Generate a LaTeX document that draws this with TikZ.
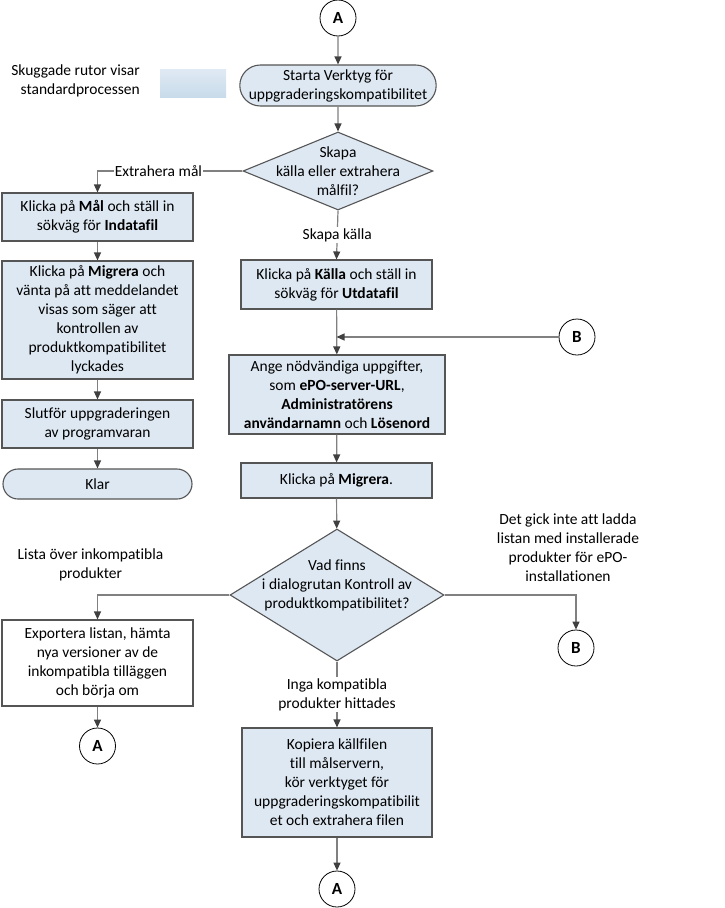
\documentclass[tikz,border=0pt]{standalone}
\usepackage{fontspec}
\setmainfont{Carlito}[Ligatures=NoCommon]
\usetikzlibrary{shapes.geometric, shapes.misc, arrows.meta, positioning}
\definecolor{boxfill}{RGB}{222,232,242}
\definecolor{boxline}{RGB}{85,85,85}
\definecolor{lineclr}{RGB}{128,128,128}
\definecolor{tipclr}{RGB}{64,64,64}
\definecolor{legtop}{RGB}{224,234,244}
\definecolor{legbot}{RGB}{200,219,234}
\tikzset{
  block/.style={
    rectangle, draw=boxline, line width=1.1pt, align=center,
    minimum width=191pt, inner sep=1pt,
    font=\fontsize{15.5}{19}\selectfont
  },
  proc/.style={block, fill=boxfill},
  plain/.style={block, fill=white},
  term/.style={block, rounded rectangle, fill=boxfill},
  dec/.style={diamond, draw=boxline, line width=1.1pt, fill=boxfill, inner sep=0pt},
  conn/.style={circle, draw=black, line width=0.8pt, fill=white,
    minimum size=36pt, inner sep=0pt, font=\fontsize{17}{18}\selectfont\bfseries},
  txt/.style={font=\fontsize{15.5}{19}\selectfont, align=center, inner sep=1pt},
  arr/.style={draw=lineclr, line width=1.2pt,
    -{Triangle[length=8pt, width=7pt, color=tipclr]}},
  legbox/.style={rectangle, minimum width=66pt, minimum height=28pt,
    top color=legtop, bottom color=legbot}
}
\begin{document}
\begin{tikzpicture}[x=1pt, y=-1pt]
  \useasboundingbox (0,0) rectangle (724,908);

  % legend
  \node[txt, align=right, anchor=east] (legtxt) at (141,81)
        {Skuggade rutor visar\\standardprocessen};
  \node[legbox] (leg) at (193,83) {};

  % main column
  \node[conn] (a1) at (338,18) {A};
  \node[term, minimum width=190pt, minimum height=41pt] (start) at (338,85.5)
        {Starta Verktyg för\\uppgraderingskompatibilitet};
  \node[dec, minimum width=190pt, minimum height=78pt,
        label={[txt]center:{Skapa\\källa eller extrahera\\målfil?}}] (ask) at (338,171) {};
  \node[proc, minimum height=49pt] (src) at (336.5,284.5)
        {Klicka på \textbf{Källa} och ställ in\\sökväg för \textbf{Utdatafil}};
  \node[proc, minimum width=216pt, minimum height=79pt] (info) at (337,394.5)
        {Ange nödvändiga uppgifter,\\som \textbf{ePO-server-URL},\\
         \textbf{Administratörens}\\\textbf{användarnamn} och \textbf{Lösenord}};
  \node[proc, minimum height=35pt] (migr) at (336.5,480.5)
        {Klicka på \textbf{Migrera}.};
  \node[dec, minimum width=214pt, minimum height=132pt,
        label={[txt, yshift=10pt]center:{Vad finns\\i dialogrutan Kontroll av\\produktkompatibilitet?}}] (check) at (337,595) {};
  \node[proc, minimum width=190pt, minimum height=109pt] (copy) at (337,782.5)
        {Kopiera källfilen\\till målservern,\\kör verktyget för\\uppgraderingskompatibilit\\et och extrahera filen};
  \node[conn] (a3) at (337,889) {A};

  % left column
  \node[proc, minimum height=48pt] (tgt) at (97.5,217)
        {Klicka på \textbf{Mål} och ställ in\\sökväg för \textbf{Indatafil}};
  \node[proc, minimum height=118pt] (wait) at (97.5,320)
        {Klicka på \textbf{Migrera} och\\vänta på att meddelandet\\visas som säger att\\kontrollen av\\produktkompatibilitet\\lyckades};
  \node[proc, minimum height=48pt] (fin) at (97.5,424)
        {Slutför uppgraderingen\\av programvaran};
  \node[term, minimum height=30pt] (done) at (97.5,484) {Klar};
  \node[plain, minimum height=86pt] (exp) at (97.5,663)
        {Exportera listan, hämta\\nya versioner av de\\inkompatibla tilläggen\\och börja om};
  \node[conn] (a2) at (97.5,746) {A};

  % off-page connectors
  \node[conn] (b1) at (577,337) {B};
  \node[conn] (b2) at (576,648) {B};
  \coordinate (jn) at (b1 -| src);

  \draw[arr] (a1) -- (start);
  \draw[arr] (start) -- (ask);
  \draw[arr] (ask.west) -| node[txt, fill=white, pos=0.29] {Extrahera mål} (tgt.north);
  \draw[arr] (ask.south) -- node[txt, fill=white] {Skapa källa} (src.north);
  \draw[arr] (src) -- (info);
  \draw[arr] (b1) -- (jn);
  \draw[arr] (info) -- (migr);
  \draw[arr] (migr) -- (check);
  \draw[arr] (check.west) -| node[txt, above=12pt, xshift=-7pt, pos=0.5]
        {Lista över inkompatibla\\produkter} (exp.north);
  \draw[arr] (check.east) -| node[txt, above=12pt, xshift=-8pt, pos=0.5]
        {Det gick inte att ladda\\listan med installerade\\produkter för ePO-\\installationen} (b2.north);
  \draw[arr] (check.south) -- node[txt, fill=white]
        {Inga kompatibla\\produkter hittades} (copy.north);
  \draw[arr] (copy) -- (a3);
  \draw[arr] (tgt) -- (wait);
  \draw[arr] (wait) -- (fin);
  \draw[arr] (fin) -- (done);
  \draw[arr] (exp) -- (a2);
\end{tikzpicture}
\end{document}
